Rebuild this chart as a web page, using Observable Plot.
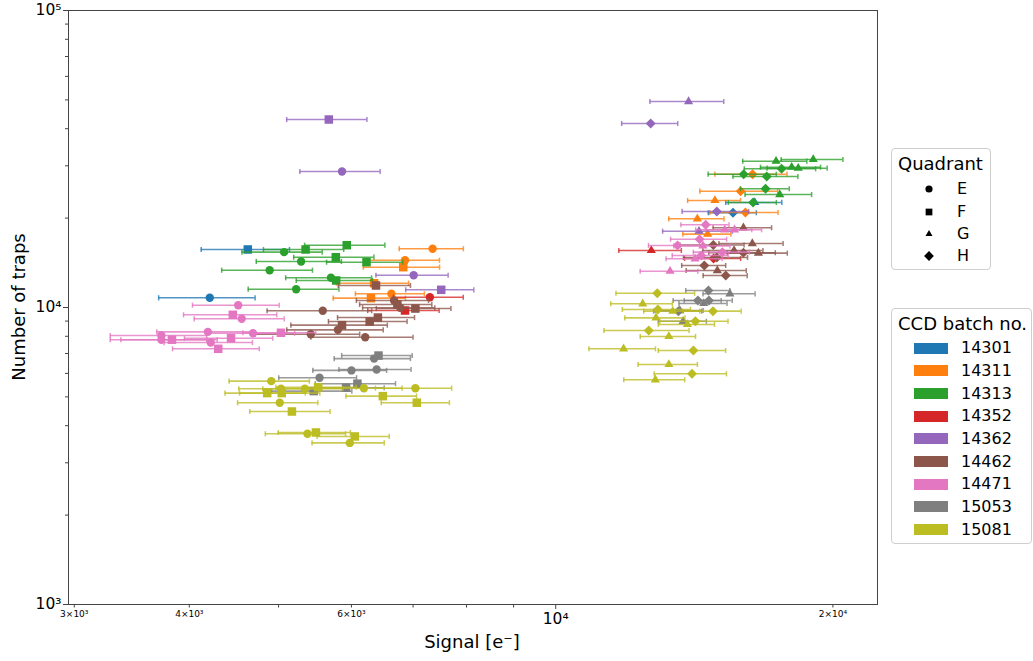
<!DOCTYPE html>
<html>
<head>
<meta charset="utf-8">
<script src="https://cdn.jsdelivr.net/npm/d3@7"></script>
<script src="https://cdn.jsdelivr.net/npm/@observablehq/plot@0.6"></script>
<style>
  body { margin: 0; background: #fff; font-family: "DejaVu Sans", sans-serif; }
  #wrap { position: relative; width: 1033px; height: 661px; overflow: hidden; }
  .leg { position: absolute; border: 1px solid #cfcfcf; border-radius: 4px; background: #fff; box-sizing: border-box; color: #000; }
  .leg .ttl { position: absolute; font-size: 18px; line-height: 20px; white-space: nowrap; }
  .leg .row { position: absolute; font-size: 16px; line-height: 20px; white-space: nowrap; }
  .leg svg { position: absolute; overflow: visible; }
  .leg .patch { position: absolute; }
</style>
</head>
<body>
<div id="wrap"></div>
<script>
// ---------------- data ----------------
const batches = ["14301", "14311", "14313", "14352", "14362", "14462", "14471", "15053", "15081"];
const quadrants = ["E", "F", "G", "H"];

// rows: [quadrant, signal (e-), number of traps, relative signal error]
const b14301 = [
  ["E", 4210, 10780, 0.12], ["F", 4630, 15680, 0.11],
  ["G", 16450, 22580, 0.07], ["H", 15580, 20850, 0.06]
];
const b14311 = [
  ["E", 7350, 15770, 0.08], ["E", 6860, 14430, 0.09], ["E", 6630, 11120, 0.086],
  ["F", 6830, 13670, 0.095], ["F", 6350, 12070, 0.09], ["F", 6300, 10750, 0.09],
  ["G", 14890, 22930, 0.066], ["G", 14250, 19890, 0.069], ["G", 14620, 17660, 0.06],
  ["H", 16360, 28110, 0.09], ["H", 15880, 24640, 0.097], ["H", 16070, 20890, 0.085]
];
const b14313 = [
  ["E", 5070, 15360, 0.10], ["E", 5290, 14290, 0.106], ["E", 4890, 13350, 0.113],
  ["E", 5700, 12590, 0.107], ["E", 5225, 11525, 0.113],
  ["F", 5350, 15680, 0.10], ["F", 5930, 16210, 0.10], ["F", 5770, 14770, 0.10],
  ["F", 6230, 14210, 0.095], ["F", 5775, 12330, 0.095],
  ["G", 19040, 31510, 0.077], ["G", 17350, 31090, 0.08], ["G", 18040, 29680, 0.075],
  ["G", 18340, 29450, 0.075], ["G", 17510, 24010, 0.083],
  ["H", 17590, 29310, 0.089], ["H", 16000, 28110, 0.085], ["H", 16950, 27610, 0.081],
  ["H", 16900, 25100, 0.061], ["H", 16380, 22580, 0.06]
];
const b14352 = [
  ["E", 7300, 10830, 0.087], ["F", 6860, 9770, 0.089],
  ["G", 12700, 15560, 0.078], ["H", 14840, 14620, 0.07]
];
const b14362 = [
  ["E", 5860, 28710, 0.10], ["E", 7010, 12840, 0.09],
  ["F", 5670, 42950, 0.10], ["F", 7510, 11470, 0.085],
  ["G", 13940, 49390, 0.092], ["G", 14310, 18070, 0.087],
  ["H", 12680, 41640, 0.07], ["H", 14960, 21060, 0.083]
];
const b14462 = [
  ["E", 6675, 10560, 0.09], ["E", 6780, 9980, 0.09], ["E", 5585, 9750, 0.13],
  ["E", 5800, 8410, 0.12], ["E", 5420, 8130, 0.13], ["E", 6210, 7940, 0.127],
  ["F", 6380, 11860, 0.09], ["F", 6730, 10240, 0.09], ["F", 7040, 9920, 0.093],
  ["F", 6410, 9250, 0.096], ["F", 6280, 8970, 0.098], ["F", 5860, 8720, 0.12],
  ["G", 15990, 18560, 0.073], ["G", 16350, 16420, 0.08], ["G", 16600, 15240, 0.075],
  ["G", 15620, 15560, 0.075], ["G", 14980, 13320, 0.075],
  ["H", 14830, 16230, 0.08], ["H", 15990, 15290, 0.083], ["H", 14960, 14740, 0.08],
  ["H", 14500, 13850, 0.055], ["H", 15300, 12810, 0.055]
];
const b14471 = [
  ["E", 4520, 10180, 0.108], ["E", 4560, 9160, 0.112], ["E", 4190, 8280, 0.12],
  ["E", 4690, 8190, 0.11], ["E", 3730, 8050, 0.12], ["E", 3730, 7790, 0.12],
  ["E", 4220, 7620, 0.11],
  ["F", 4460, 9450, 0.116], ["F", 5030, 8220, 0.091], ["F", 3830, 7790, 0.12],
  ["F", 4440, 7880, 0.11], ["F", 4300, 7260, 0.108],
  ["G", 15260, 18270, 0.07], ["G", 15640, 18270, 0.07], ["G", 14450, 16130, 0.07],
  ["G", 14170, 14590, 0.07], ["G", 13310, 13250, 0.072],
  ["H", 14550, 18990, 0.06], ["H", 14330, 16980, 0.07], ["H", 13560, 16170, 0.07],
  ["H", 14390, 14970, 0.07], ["H", 15170, 15360, 0.07]
];
const b15053 = [
  ["E", 6350, 6730, 0.095], ["E", 6000, 6140, 0.092], ["E", 6390, 6185, 0.09],
  ["E", 5540, 5800, 0.097],
  ["F", 6420, 6890, 0.088], ["F", 6090, 5540, 0.10], ["F", 5920, 5370, 0.10],
  ["F", 5460, 5230, 0.10],
  ["G", 15460, 11120, 0.065], ["G", 13640, 9770, 0.06], ["G", 13750, 8990, 0.06],
  ["G", 14480, 10320, 0.06],
  ["H", 14650, 11410, 0.055], ["H", 14270, 10560, 0.06], ["H", 14670, 10560, 0.06],
  ["H", 13590, 9720, 0.06]
];
const b15081 = [
  ["E", 4910, 5650, 0.10], ["E", 5030, 5325, 0.10], ["E", 5340, 5325, 0.10],
  ["E", 6190, 5350, 0.10], ["E", 7040, 5350, 0.095], ["E", 5015, 4780, 0.10],
  ["E", 5375, 3757, 0.10], ["E", 5975, 3500, 0.09],
  ["F", 5520, 5390, 0.10], ["F", 4860, 5150, 0.10], ["F", 5040, 5150, 0.10],
  ["F", 6490, 5030, 0.088], ["F", 7065, 4780, 0.085], ["F", 5170, 4465, 0.10],
  ["F", 5490, 3795, 0.09], ["F", 6050, 3680, 0.09],
  ["G", 12430, 10290, 0.077], ["G", 13400, 9720, 0.07], ["G", 12850, 9230, 0.075],
  ["G", 13900, 8770, 0.07], ["G", 13270, 7990, 0.069], ["G", 11850, 7260, 0.083],
  ["G", 13270, 6430, 0.074], ["G", 12830, 5710, 0.076],
  ["H", 12890, 11170, 0.098], ["H", 12910, 9850, 0.085], ["H", 14820, 9720, 0.073],
  ["H", 14180, 8990, 0.085], ["H", 12620, 8370, 0.106], ["H", 14110, 7165, 0.084],
  ["H", 14060, 5980, 0.09]
];
const batchRows = [b14301, b14311, b14313, b14352, b14362, b14462, b14471, b15053, b15081];

// tick values and labels
const xMajorTicks = [10000];
const xMajorLabels = ["10⁴"];
const xMinorTicks = [3000, 4000, 5000, 6000, 7000, 8000, 9000, 20000];
const xMinorLabels = ["3×10³", "4×10³", "", "6×10³", "", "", "", "2×10⁴"];
const yMajorTicks = [1000, 10000, 100000];
const yMajorLabels = ["10³", "10⁴", "10⁵"];
const yMinorTicks = [2000, 3000, 4000, 5000, 6000, 7000, 8000, 9000,
                     20000, 30000, 40000, 50000, 60000, 70000, 80000, 90000];

// ---------------- styles ----------------
const palette = ["#1f77b4", "#ff7f0e", "#2ca02c", "#d62728", "#9467bd", "#8c564b", "#e377c2", "#7f7f7f", "#bcbd22"];
const shapes = { E: d3.symbolCircle, F: d3.symbolSquare, G: d3.symbolTriangle, H: d3.symbolDiamond2 };
const radii = { E: 4.2, F: 4.8, G: 3.4, H: 4.5 };
const legendRadii = { E: 3.6, F: 3.8, G: 2.6, H: 4.4 };
const capSymbol = { draw(ctx, size) { const h = Math.sqrt(size) / 2; ctx.moveTo(0, -h); ctx.lineTo(0, h); } };

const marks = [];
batchRows.forEach((rows, i) => {
  const data = rows.map(([q, signal, traps, err]) => ({ q, signal, traps, err }));
  const c = palette[i];
  const lo = d => d.signal * (1 - d.err);
  const hi = d => d.signal * (1 + d.err);
  marks.push(Plot.ruleY(data, { y: "traps", x1: lo, x2: hi, stroke: c, strokeWidth: 1.6, strokeOpacity: 0.78 }));
  marks.push(Plot.dot(data, { x: lo, y: "traps", symbol: capSymbol, r: 2.9, stroke: c, strokeWidth: 1.5, strokeOpacity: 0.78 }));
  marks.push(Plot.dot(data, { x: hi, y: "traps", symbol: capSymbol, r: 2.9, stroke: c, strokeWidth: 1.5, strokeOpacity: 0.78 }));
  quadrants.forEach(q => {
    marks.push(Plot.dot(data.filter(d => d.q === q), { x: "signal", y: "traps", symbol: shapes[q], r: radii[q], fill: c }));
  });
});

const chart = Plot.plot({
  width: 1033,
  height: 661,
  marginLeft: 68,
  marginRight: 156,
  marginTop: 10,
  marginBottom: 57,
  x: { type: "log", domain: [2957, 22360] },
  y: { type: "log", domain: [1000, 100000] },
  style: { fontFamily: "'DejaVu Sans', sans-serif", background: "white", color: "black", overflow: "visible" },
  marks: [
    Plot.axisX({ ticks: xMinorTicks, tickFormat: d => xMinorLabels[xMinorTicks.indexOf(d)], tickSize: 3.5, tickPadding: 3, fontSize: 9, label: null, stroke: "#444" }),
    Plot.axisX({ ticks: xMajorTicks, tickFormat: d => xMajorLabels[xMajorTicks.indexOf(d)], tickSize: 5, tickPadding: 3, fontSize: 15.5, label: null, stroke: "#444" }),
    Plot.axisY({ ticks: yMinorTicks, tickFormat: () => "", tickSize: 3, label: null, stroke: "#444" }),
    Plot.axisY({ ticks: yMajorTicks, tickFormat: d => yMajorLabels[yMajorTicks.indexOf(d)], tickSize: 5, tickPadding: 2, fontSize: 15.5, label: null, stroke: "#444" }),
    ...marks,
    Plot.frame({ stroke: "#444", strokeWidth: 1 })
  ]
});

const wrap = document.getElementById("wrap");
wrap.appendChild(chart);

const svg = d3.select(chart.tagName.toLowerCase() === "svg" ? chart : chart.querySelector("svg"));
svg.append("text")
  .attr("x", 472).attr("y", 648)
  .attr("text-anchor", "middle")
  .attr("font-size", 18)
  .attr("fill", "black")
  .text("Signal [e⁻]");
svg.append("text")
  .attr("transform", "translate(25,307) rotate(-90)")
  .attr("text-anchor", "middle")
  .attr("font-size", 18)
  .attr("fill", "black")
  .text("Number of traps");

// ---------------- legends ----------------
const W = d3.select(wrap);
const qBox = W.append("div").attr("class", "leg")
  .style("left", "891px").style("top", "148px").style("width", "100px").style("height", "122px");
qBox.append("div").attr("class", "ttl").style("left", "6px").style("top", "5px").text("Quadrant");
quadrants.forEach((q, i) => {
  const cy = 40.3 + i * 22.3;
  const s = qBox.append("svg").attr("width", 20).attr("height", 20)
    .style("left", "27px").style("top", (cy - 10) + "px");
  s.append("path")
    .attr("transform", "translate(10,10)")
    .attr("d", d3.symbol(shapes[q], Math.PI * legendRadii[q] * legendRadii[q])())
    .attr("fill", "black");
  qBox.append("div").attr("class", "row").style("left", "65px").style("top", (cy - 10) + "px").text(q);
});

const cBox = W.append("div").attr("class", "leg")
  .style("left", "891px").style("top", "308px").style("width", "141px").style("height", "236px");
cBox.append("div").attr("class", "ttl").style("left", "6px").style("top", "5px").text("CCD batch no.");
batches.forEach((b, i) => {
  const cy = 39.3 + i * 22.67;
  cBox.append("div").attr("class", "patch")
    .style("left", "22px").style("top", (cy - 5.5) + "px")
    .style("width", "34px").style("height", "11px")
    .style("background", palette[i]);
  cBox.append("div").attr("class", "row").style("left", "69px").style("top", (cy - 10) + "px").text(b);
});
</script>
</body>
</html>
